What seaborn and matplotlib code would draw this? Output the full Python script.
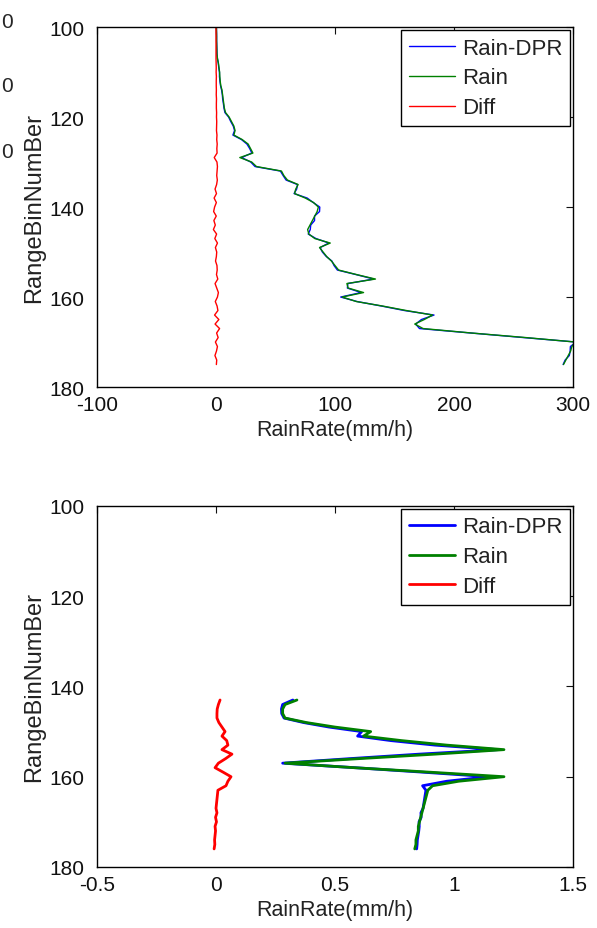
import matplotlib
matplotlib.use('Agg')
import matplotlib.pyplot as plt
import seaborn as sns

# range bins (y) for the two profiles
bins_top = list(range(100, 176))
bins_bot = list(range(143, 177))

# upper panel: rain rate (mm/h) per bin
rain_top = [0.3, 0.4, 0.5, 0.5, 0.6, 0.7, 0.8, 1.2,
            2.0, 2.5, 3.0, 3.2, 3.5, 4.0, 5.0, 5.5, 6.0, 6.5, 7.0, 8.0,
            11.0, 13.0, 15.0, 16.0, 15.0, 22.0, 27.0, 29.0, 31.0, 20.0,
            30.0, 34.0, 55.0, 57.0, 60.0, 69.0, 67.0, 66.0, 75.0, 82.0,
            86.0, 85.0, 83.0, 81.0, 79.0, 77.0, 78.0, 83.0, 96.0, 87.0,
            90.0, 93.0, 97.0, 100.0, 103.0, 118.0, 134.0, 110.0, 111.0, 124.0,
            106.0, 118.0, 140.0, 160.0, 182.0, 175.0, 167.0, 174.0, 215.0, 260.0,
            302.0, 299.0, 298.0, 296.0, 294.0, 292.0]
rain_dpr_top = [0.3, 0.4, 0.5, 0.5, 0.6, 0.7, 0.8, 1.2,
                1.9, 2.3, 2.9, 2.9, 3.3, 3.8, 4.7, 5.3, 5.6, 6.2, 6.7, 7.5,
                10.6, 12.4, 14.5, 15.6, 14.2, 21.4, 26.0, 28.3, 30.1, 21.5,
                29.2, 32.8, 54.1, 56.4, 58.9, 68.5, 67.8, 65.6, 76.6, 81.7,
                87.2, 87.0, 82.8, 82.8, 79.6, 79.2, 77.5, 84.0, 94.8, 87.5,
                89.4, 92.7, 97.4, 99.2, 102.0, 117.6, 132.5, 110.8, 110.4, 122.0,
                104.8, 118.6, 139.1, 158.4, 183.2, 172.6, 167.8, 171.0, 214.5, 258.2,
                302.5, 297.8, 297.6, 296.9, 293.4, 291.7]
diff_top = [0, 0, 0, 0, 0, 0, 0, 0,
            0.1, 0.2, 0.1, 0.3, 0.2, 0.2, 0.3, 0.2, 0.4, 0.3, 0.3, 0.5,
            0.4, 0.6, 0.5, 0.4, 0.8, 0.6, 1.0, 0.7, 0.9, -1.5,
            0.8, 1.2, 0.9, 0.6, 1.1, 0.5, -0.8, 0.4, -1.6, 0.3,
            -1.2, -2.0, 0.2, -1.8, -0.6, -2.2, 0.5, -1.0, 1.2, -0.5,
            0.6, 0.3, -0.4, 0.8, 1.0, 0.4, 1.5, -0.8, 0.6, 2.0,
            1.2, -0.6, 0.9, 1.6, -1.2, 2.4, -0.8, 3.0, 0.5, 1.8,
            -0.5, 1.2, 0.4, -0.9, 0.6, 0.3]

# lower panel
rain_bot = [0.34, 0.29, 0.28, 0.28, 0.29, 0.38, 0.50, 0.65, 0.62, 0.78,
            0.97, 1.21, 0.92, 0.60, 0.29, 0.58, 0.90, 1.21, 1.02, 0.91,
            0.89, 0.885, 0.88, 0.875, 0.87, 0.865, 0.86, 0.855, 0.85, 0.85,
            0.845, 0.84, 0.84, 0.835]
rain_dpr_bot = [0.323, 0.280, 0.275, 0.276, 0.286, 0.368, 0.475, 0.612, 0.595, 0.735,
                0.920, 1.185, 0.853, 0.560, 0.280, 0.584, 0.870, 1.147, 0.970, 0.868,
                0.882, 0.879, 0.876, 0.873, 0.870, 0.861, 0.862, 0.853, 0.854, 0.852,
                0.849, 0.846, 0.845, 0.843]
diff_bot = [0.017, 0.010, 0.005, 0.004, 0.004, 0.012, 0.025, 0.038, 0.025, 0.045,
            0.050, 0.025, 0.067, 0.040, 0.010, -0.004, 0.030, 0.063, 0.050, 0.042,
            0.008, 0.006, 0.004, 0.002, 0.000, 0.004, -0.002, 0.002, -0.004, -0.002,
            -0.004, -0.006, -0.005, -0.008]

names = ['Rain-DPR', 'Rain', 'Diff']
colors = ['#0000ff', '#008000', '#ff0000']
yticks = [100, 120, 140, 160, 180]
xticks_top = [-100, 0, 100, 200, 300]
xlabels_top = ['-100', '0', '100', '200', '300']
xticks_bot = [-0.5, 0, 0.5, 1, 1.5]
xlabels_bot = ['-0.5', '0', '0.5', '1', '1.5']

sns.set_theme(style='white')
plt.rcParams['font.family'] = ['Liberation Sans', 'DejaVu Sans']
plt.rcParams['axes.unicode_minus'] = False

fig = plt.figure(figsize=(5.97, 9.29), dpi=100)
ax1 = fig.add_axes([0.1625, 0.5823, 0.7973, 0.3875])
ax2 = fig.add_axes([0.1625, 0.0657, 0.7973, 0.3886])


def panel(ax, bins, series, lw, xticks, xlabels):
    for name, color, vals in zip(names, colors, series):
        sns.lineplot(x=vals, y=bins, sort=False, estimator=None, color=color,
                     lw=lw, label=name, ax=ax)
    ax.set_xlim(xticks[0], xticks[-1])
    ax.set_ylim(180, 100)
    ax.set_xticks(xticks)
    ax.set_xticklabels(xlabels)
    ax.set_yticks(yticks)
    ax.set_yticklabels([str(t) for t in yticks])
    ax.tick_params(direction='in', length=5, width=0.8, top=True, right=True,
                   labelsize=15, colors='#111111')
    ax.tick_params(axis='x', pad=5.5)
    ax.tick_params(axis='y', pad=9)
    for s in ax.spines.values():
        s.set_color('black')
        s.set_linewidth(1.0)
    ax.set_xlabel('RainRate(mm/h)', fontsize=15.5, color='#222222')
    ax.set_ylabel('RangeBinNumBer', fontsize=17, color='#222222')
    ax.xaxis.set_label_coords(0.5, -0.09)
    ax.yaxis.set_label_coords(-0.108, 0.5)
    leg = ax.legend(loc='upper right', frameon=True, fancybox=False,
                    edgecolor='black', framealpha=1, fontsize=16,
                    handlelength=2.1, handletextpad=0.3, borderaxespad=0.12,
                    labelspacing=0.4, borderpad=0.35)
    leg.get_frame().set_linewidth(1.0)
    for t in leg.get_texts():
        t.set_color('#222222')


panel(ax1, bins_top, [rain_dpr_top, rain_top, diff_top], 1.0, xticks_top, xlabels_top)
panel(ax2, bins_bot, [rain_dpr_bot, rain_bot, diff_bot], 2.0, xticks_bot, xlabels_bot)

# clipped tick labels of a neighbouring panel at the left edge
for yp in [22, 87, 153]:
    fig.text(13 / 597, 1 - yp / 929, '0', ha='right', va='center', fontsize=15)

fig.savefig('out.png', dpi=100)
